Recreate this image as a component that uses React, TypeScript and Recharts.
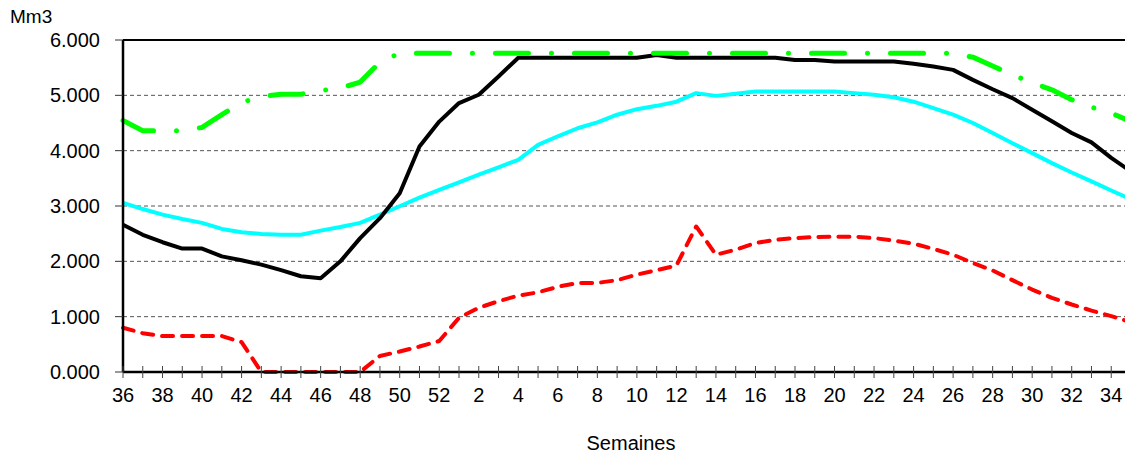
import React from "react";
import { LineChart, Line, XAxis, YAxis, CartesianGrid, ReferenceLine, Label } from "recharts";

const weeks = [
  "36", "37", "38", "39", "40", "41", "42", "43", "44", "45", "46", "47", "48", "49", "50", "51", "52",
  "1", "2", "3", "4", "5", "6", "7", "8", "9", "10", "11", "12", "13", "14", "15", "16", "17", "18",
  "19", "20", "21", "22", "23", "24", "25", "26", "27", "28", "29", "30", "31", "32", "33", "34", "35",
];

const redSeries = [
  800, 700, 650, 650, 650, 650, 540, 0, 0, 0, 0, 0, 0, 290, 370, 460, 560,
  980, 1160, 1280, 1380, 1440, 1540, 1610, 1610, 1660, 1760, 1840, 1925, 2630, 2120, 2210, 2330, 2390, 2420,
  2440, 2445, 2445, 2420, 2375, 2320, 2225, 2120, 1970, 1835, 1660, 1490, 1340, 1220, 1110, 1010, 900,
];

const blackSeries = [
  2660, 2480, 2345, 2230, 2230, 2090, 2020, 1940, 1840, 1730, 1695, 2000, 2420, 2780, 3230, 4075, 4525,
  4860, 5010, 5340, 5680, 5680, 5680, 5680, 5680, 5680, 5680, 5730, 5680, 5680, 5680, 5680, 5680, 5680, 5640,
  5640, 5610, 5610, 5610, 5610, 5570, 5520, 5460, 5280, 5110, 4950, 4740, 4530, 4320, 4150, 3870, 3625,
];

const cyanSeries = [
  3055, 2945, 2845, 2765, 2695, 2585, 2525, 2495, 2480, 2480, 2555, 2620, 2695, 2845, 2995, 3150, 3290,
  3425, 3565, 3700, 3835, 4105, 4260, 4405, 4510, 4650, 4750, 4810, 4885, 5040, 4990, 5030, 5070, 5070, 5070,
  5070, 5070, 5040, 5010, 4965, 4885, 4770, 4650, 4500, 4320, 4135, 3955, 3775, 3605, 3445, 3280, 3120,
];

const greenSeries = [
  4545, 4360, 4360, 4360, 4420, 4650, 4870, 4980, 5020, 5020, 5085, 5130, 5240, 5600, 5760, 5760, 5760,
  5760, 5760, 5760, 5760, 5760, 5760, 5760, 5760, 5760, 5760, 5760, 5760, 5760, 5760, 5760, 5760, 5760, 5760,
  5760, 5760, 5760, 5760, 5760, 5760, 5760, 5760, 5690, 5530, 5370, 5230, 5100, 4920, 4785, 4680, 4525,
];

const yTicks = [0, 1000, 2000, 3000, 4000, 5000, 6000];

const data = weeks.map((w, i) => ({
  week: w,
  red: redSeries[i],
  black: blackSeries[i],
  cyan: cyanSeries[i],
  green: greenSeries[i],
}));

const FONT = "'Liberation Sans', Arial, sans-serif";

const XTick = (props: any) => {
  const { x, y, payload } = props;
  const idx = weeks.indexOf(String(payload.value));
  const axisY = y - 16;
  return (
    <g>
      <line x1={x} x2={x} y1={axisY - 6} y2={axisY + 6} stroke="#444" strokeWidth={1} />
      {idx % 2 === 0 && (
        <text x={x} y={y} dy="0.71em" textAnchor="middle" fontSize={20} fontFamily={FONT} fill="#000">
          {payload.value}
        </text>
      )}
    </g>
  );
};

export default function App() {
  return (
    <div style={{ position: "relative", width: 1125, height: 450, marginBottom: -8, fontFamily: FONT }}>
      <div
        style={{
          position: "absolute",
          left: 2,
          top: -1,
          fontSize: 19,
          lineHeight: "19px",
          fontFamily: FONT,
          color: "#000",
        }}
      >
        Mm3
      </div>
      <LineChart width={1125} height={450} data={data} margin={{ top: 32, right: 2, left: 0, bottom: 0 }}>
        <CartesianGrid vertical={false} stroke="#555" strokeDasharray="4 3" />
        <XAxis
          dataKey="week"
          interval={0}
          height={86}
          tickSize={6}
          tickMargin={10}
          tickLine={false}
          axisLine={{ stroke: "#000", strokeWidth: 2.5 }}
          tick={<XTick />}
        >
          <Label
            value="Semaines"
            position="insideBottom"
            offset={8}
            dx={4}
            style={{ fontSize: 20, fontFamily: FONT, fill: "#000" }}
          />
        </XAxis>
        <YAxis
          width={115}
          domain={[0, 6000]}
          ticks={yTicks}
          interval={0}
          tickSize={8}
          tickMargin={15}
          tickLine={{ stroke: "#333" }}
          axisLine={{ stroke: "#000", strokeWidth: 2.5 }}
          tickFormatter={(v: number) => (v / 1000).toFixed(3)}
          tick={{ fontSize: 20, fontFamily: FONT, fill: "#000" }}
        />
        <ReferenceLine y={6000} stroke="#000" strokeWidth={2} />
        <ReferenceLine x="35" stroke="#000" strokeWidth={2} />
        <Line
          type="linear"
          dataKey="red"
          stroke="#FF0000"
          strokeWidth={4}
          strokeDasharray="11 9"
          strokeLinecap="round"
          strokeLinejoin="round"
          dot={false}
          isAnimationActive={false}
        />
        <Line
          type="linear"
          dataKey="cyan"
          stroke="#00FFFF"
          strokeWidth={4}
          strokeLinejoin="round"
          dot={false}
          isAnimationActive={false}
        />
        <Line
          type="linear"
          dataKey="black"
          stroke="#000000"
          strokeWidth={4}
          strokeLinejoin="round"
          dot={false}
          isAnimationActive={false}
        />
        <Line
          type="linear"
          dataKey="green"
          stroke="#00FF00"
          strokeWidth={5}
          strokeDasharray="33 23 0.01 23"
          strokeLinecap="round"
          strokeLinejoin="round"
          dot={false}
          isAnimationActive={false}
        />
      </LineChart>
    </div>
  );
}
